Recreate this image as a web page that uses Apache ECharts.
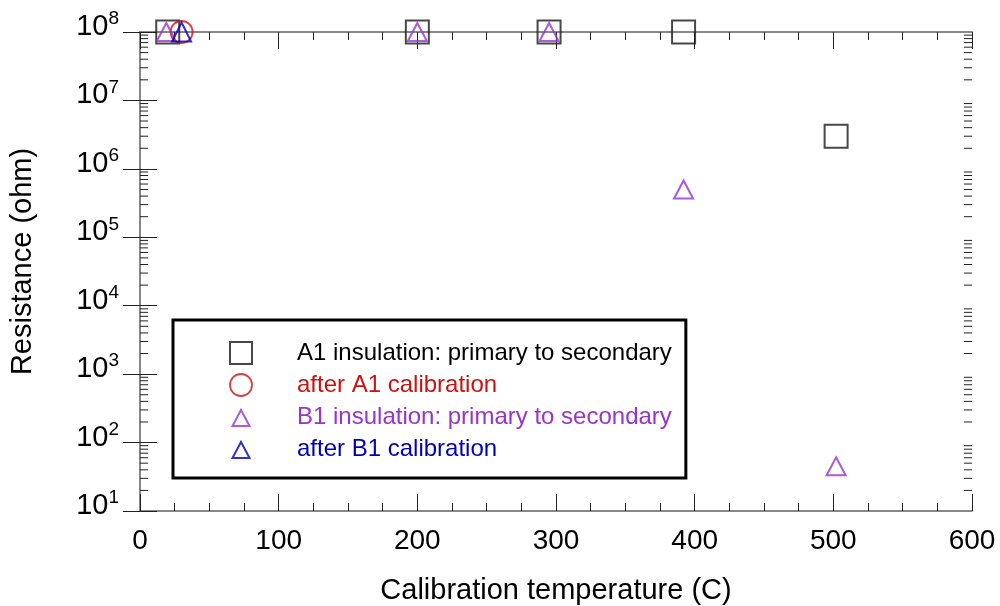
<!DOCTYPE html>
<html>
<head>
<meta charset="utf-8">
<script src="https://cdn.jsdelivr.net/npm/echarts@6/dist/echarts.min.js"></script>
<style>
  html, body { margin: 0; padding: 0; background: #fff; }
  #chart { width: 1000px; height: 606px; }
</style>
</head>
<body>
<div id="chart"></div>
<script>
// 数据：温度 (C) 与 电阻 (ohm)
const a1Temps = [20, 200, 295, 392, 502];
const a1Values = [1e8, 1e8, 1e8, 1e8, 3e6];

const a1AfterTemps = [30];
const a1AfterValues = [1e8];

const b1Temps = [19, 200, 295, 392, 502];
const b1Values = [1e8, 1e8, 1e8, 5e5, 45];

const b1AfterTemps = [30];
const b1AfterValues = [1e8];

const seriesNames = [
  'A1 insulation: primary to secondary',
  'after A1 calibration',
  'B1 insulation: primary to secondary',
  'after B1 calibration'
];

// 对数轴的小刻度 (2..9 x 10^n)
const decades = [1, 2, 3, 4, 5, 6, 7];
const minorTickValues = [];
decades.forEach(function (d) {
  for (let m = 2; m <= 9; m++) {
    minorTickValues.push([0, m * Math.pow(10, d)]);
  }
});

const BLACK = '#1a1a1a';
const RED = '#cc1111';
const PURPLE = '#9933cc';
const BLUE = '#0000bb';

// 图例三角形：带留白，比方块略小
const legendTriangle = 'path://M0,0M22,22M2.5,20L19.5,20L11,4Z';

function pairs(xs, ys) {
  return xs.map(function (x, i) { return [x, ys[i]]; });
}

function hollow(color, width) {
  return { color: 'rgba(0,0,0,0)', borderColor: color, borderWidth: width };
}

const xAxisBase = {
  type: 'value',
  min: 0,
  max: 600,
  interval: 100,
  axisLine: { lineStyle: { color: '#888', width: 2 } },
  axisTick: { inside: true, length: 17, lineStyle: { color: '#222', width: 1 } },
  minorTick: { show: true, splitNumber: 4, length: 8, lineStyle: { color: '#222', width: 1 } },
  splitLine: { show: false }
};

const yAxisBase = {
  type: 'log',
  logBase: 10,
  min: 10,
  max: 1e8,
  interval: 1,
  axisLine: { lineStyle: { color: '#888', width: 2 } },
  axisTick: { inside: true, length: 17, lineStyle: { color: '#222', width: 1 } },
  splitLine: { show: false }
};

const chart = echarts.init(document.getElementById('chart'), null, { renderer: 'canvas' });

const option = {
  animation: false,
  backgroundColor: '#fff',
  textStyle: { fontFamily: 'Liberation Sans, Arial, sans-serif' },
  grid: { left: 140, right: 28, top: 32, bottom: 95, outerBoundsMode: 'none', containLabel: false },
  xAxis: [
    Object.assign({}, xAxisBase, {
      position: 'bottom',
      name: 'Calibration temperature (C)',
      nameLocation: 'middle',
      nameGap: 65,
      nameTextStyle: { fontSize: 29, color: '#000' },
      axisLabel: { fontSize: 28, color: '#000', margin: 16 }
    }),
    Object.assign({}, xAxisBase, {
      position: 'top',
      axisLabel: { show: false }
    })
  ],
  yAxis: [
    Object.assign({}, yAxisBase, {
      position: 'left',
      name: 'Resistance (ohm)',
      nameLocation: 'middle',
      nameGap: 103,
      nameTextStyle: { fontSize: 29, color: '#000', padding: [0, 0, 0, 20] },
      axisLabel: {
        margin: 21,
        color: '#000',
        padding: [0, 0, 10, 0],
        formatter: function (v) {
          const e = Math.round(Math.log10(v));
          return '{b|10}{s|' + e + '}';
        },
        rich: {
          b: { fontSize: 29, color: '#000' },
          s: { fontSize: 19, color: '#000', padding: [0, 0, 16, 0] }
        }
      }
    }),
    Object.assign({}, yAxisBase, {
      position: 'right',
      axisLabel: { show: false }
    })
  ],
  legend: {
    orient: 'vertical',
    left: 173,
    top: 320,
    padding: [21, 14, 17, 56],
    itemWidth: 22,
    itemHeight: 22,
    itemGap: 8,
    backgroundColor: '#fff',
    borderColor: '#000',
    borderWidth: 3,
    borderRadius: 0,
    textStyle: { fontSize: 24, padding: [0, 0, 0, 40] },
    data: [
      { name: seriesNames[0], icon: 'rect', itemStyle: hollow(BLACK, 2), textStyle: { color: '#000' } },
      { name: seriesNames[1], icon: 'circle', itemStyle: hollow(RED, 1.8), textStyle: { color: RED } },
      { name: seriesNames[2], icon: legendTriangle, itemStyle: hollow(PURPLE, 2), textStyle: { color: PURPLE } },
      { name: seriesNames[3], icon: legendTriangle, itemStyle: hollow(BLUE, 2), textStyle: { color: BLUE } }
    ]
  },
  series: [
    {
      name: 'minor ticks',
      type: 'custom',
      silent: true,
      clip: false,
      data: minorTickValues,
      renderItem: function (params, api) {
        const y = api.coord([0, api.value(1)])[1];
        const cs = params.coordSys;
        const st = { stroke: '#222', lineWidth: 1 };
        return {
          type: 'group',
          children: [
            { type: 'line', shape: { x1: cs.x, y1: y, x2: cs.x + 8, y2: y }, style: st },
            { type: 'line', shape: { x1: cs.x + cs.width - 8, y1: y, x2: cs.x + cs.width, y2: y }, style: st }
          ]
        };
      }
    },
    {
      name: seriesNames[0],
      type: 'scatter',
      symbol: 'rect',
      symbolSize: 23,
      itemStyle: hollow(BLACK, 2),
      data: pairs(a1Temps, a1Values),
      z: 3
    },
    {
      name: seriesNames[1],
      type: 'scatter',
      symbol: 'circle',
      symbolSize: 22,
      itemStyle: hollow(RED, 1.8),
      data: pairs(a1AfterTemps, a1AfterValues),
      z: 4
    },
    {
      name: seriesNames[2],
      type: 'scatter',
      symbol: 'triangle',
      symbolSize: [19, 18],
      itemStyle: hollow(PURPLE, 2),
      data: pairs(b1Temps, b1Values),
      z: 5
    },
    {
      name: seriesNames[3],
      type: 'scatter',
      symbol: 'triangle',
      symbolSize: [19, 19],
      itemStyle: hollow(BLUE, 2),
      data: pairs(b1AfterTemps, b1AfterValues),
      z: 6
    }
  ]
};

chart.setOption(option);
</script>
</body>
</html>
